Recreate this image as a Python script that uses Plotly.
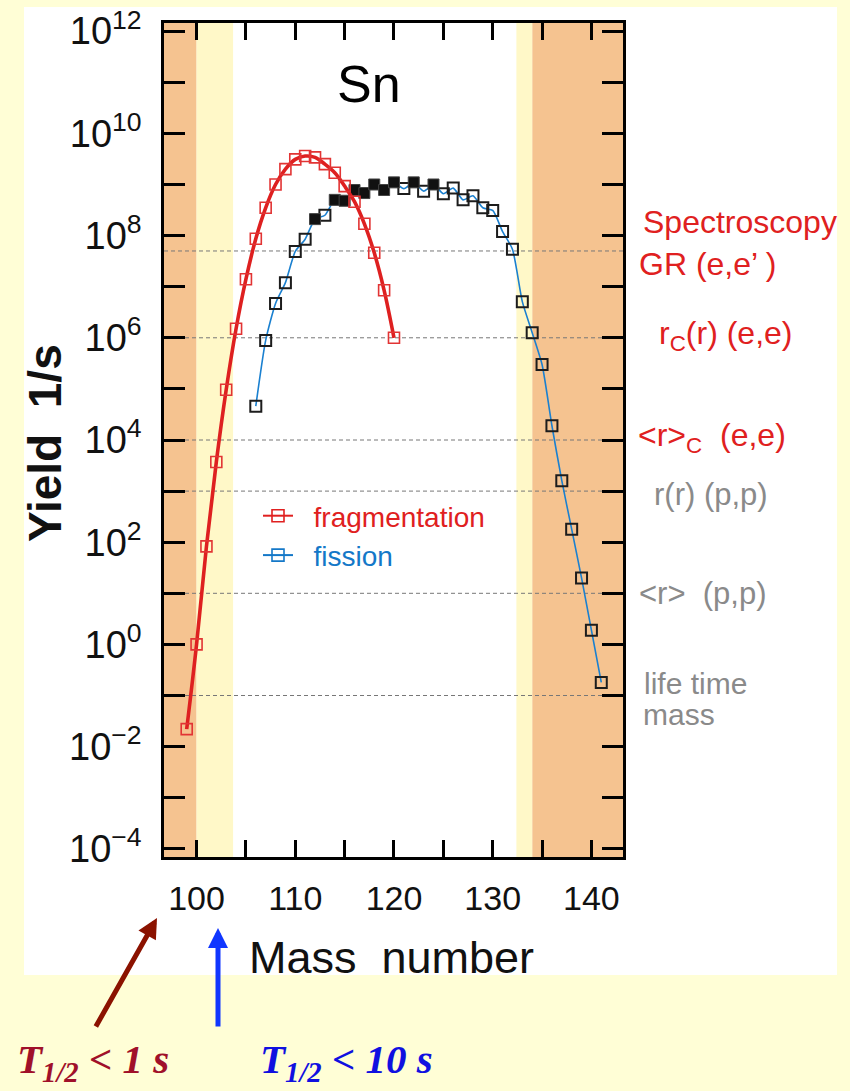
import plotly.graph_objects as go

# ---------------- data ----------------
frag_A = list(range(99, 121))
frag_yield = [2.2e-2, 1.0, 83, 3.7e3, 9.6e4, 1.5e6, 1.4e7, 8.7e7, 3.5e8, 1.0e9, 2.0e9,
              3.1e9, 3.6e9, 3.4e9, 2.5e9, 1.7e9, 9.3e8, 4.6e8, 1.7e8, 4.6e7, 8.5e6, 1.0e6]

fission_A = list(range(106, 142))
fission_yield = [4.6e4, 8.9e5, 4.7e6, 1.2e7, 4.9e7, 8.5e7, 2.1e8, 2.5e8, 5.0e8, 4.8e8,
                 7.8e8, 6.8e8, 1.0e9, 7.8e8, 1.1e9, 8.3e8, 1.1e9, 7.4e8, 1.0e9, 6.6e8,
                 8.5e8, 5.0e8, 6.0e8, 3.5e8, 3.1e8, 1.2e8, 5.4e7, 5.1e6, 1.26e6, 3.0e5,
                 1.9e4, 1.6e3, 1.8e2, 20, 1.9, 0.18]
fission_filled = [False, False, False, False, False, False, True, False, True, True,
                  True, True, True, True, True, False, True, False, True, False,
                  False, False, False, False, False, False, False, False, False, False,
                  False, False, False, False, False, False]

ref_levels = [5e7, 1e6, 1e4, 1e3, 10, 0.1]

right_labels = ["Spectroscopy", "GR (e,e\u2019 )", "r<sub>C</sub>(r) (e,e)", "&lt;r&gt;<sub>C</sub>  (e,e)",
                "r(r) (p,p)", "&lt;r&gt;  (p,p)", "life time", "mass"]
right_label_colors = ["#E02020"] * 4 + ["#8A8A8A"] * 4

y_exponents = list(range(-4, 13))
x_ticks = list(range(100, 145, 5))

band_orange = [(96.7, 100.0), (134.0, 143.2)]
band_yellow = [(100.0, 103.7), (132.4, 134.0)]

# ---------------- layout helpers ----------------
W, H = 850, 1091
L, R, T, B = 164, 227, 23, 234
PW, PH = W - L - R, H - T - B


def px(xp):
    return (xp - L) / PW


def py(yp):
    return (H - B - yp) / PH


TICKFONT = "Liberation Sans, Arial, sans-serif"
SANS = "Liberation Sans, Arial, sans-serif"

fig = go.Figure()

# fission
fig.add_trace(go.Scatter(x=fission_A, y=fission_yield, mode="lines",
                         line=dict(color="#1a80d0", width=1.6, shape="spline", smoothing=0.6),
                         showlegend=False, hoverinfo="skip"))
fig.add_trace(go.Scatter(x=[a for a, f in zip(fission_A, fission_filled) if not f],
                         y=[v for v, f in zip(fission_yield, fission_filled) if not f],
                         mode="markers",
                         marker=dict(symbol="square-open", size=11, color="#1c1c1c", line=dict(width=2)),
                         showlegend=False))
fig.add_trace(go.Scatter(x=[a for a, f in zip(fission_A, fission_filled) if f],
                         y=[v for v, f in zip(fission_yield, fission_filled) if f],
                         mode="markers",
                         marker=dict(symbol="square", size=11, color="#111111",
                                     line=dict(width=1, color="#444444")),
                         showlegend=False))
# fragmentation
fig.add_trace(go.Scatter(x=frag_A, y=frag_yield, mode="lines",
                         line=dict(color="#DE2020", width=3.6, shape="spline", smoothing=1.0),
                         showlegend=False, hoverinfo="skip"))
fig.add_trace(go.Scatter(x=frag_A, y=frag_yield, mode="markers",
                         marker=dict(symbol="square-open", size=11, color="#E23434", line=dict(width=1.6)),
                         showlegend=False))

# legend-only traces
fig.add_trace(go.Scatter(x=[None], y=[None], mode="lines+markers",
                         name='<span style="color:#E02020">\u00a0\u00a0fragmentation</span>',
                         line=dict(color="#E02020", width=2),
                         marker=dict(symbol="square-open", size=12, color="#E02020", line=dict(width=1.6))))
fig.add_trace(go.Scatter(x=[None], y=[None], mode="lines+markers",
                         name='<span style="color:#1478C8">\u00a0\u00a0fission</span>',
                         line=dict(color="#1478C8", width=2),
                         marker=dict(symbol="square-open", size=12, color="#1478C8", line=dict(width=1.6))))

shapes = []
# white panel
shapes.append(dict(type="rect", xref="paper", yref="paper", x0=px(24), x1=px(837), y0=py(975), y1=py(7),
                   fillcolor="white", line=dict(width=0), layer="below"))
for x0, x1 in band_orange:
    shapes.append(dict(type="rect", xref="x", yref="paper", x0=x0, x1=x1, y0=0, y1=1,
                       fillcolor="#F5C390", line=dict(width=0), layer="below"))
for x0, x1 in band_yellow:
    shapes.append(dict(type="rect", xref="x", yref="paper", x0=x0, x1=x1, y0=0, y1=1,
                       fillcolor="#FFF8C8", line=dict(width=0), layer="below"))
for lv in ref_levels:
    shapes.append(dict(type="line", xref="paper", yref="y", x0=0, x1=1, y0=lv, y1=lv,
                       line=dict(color="#777777", width=1, dash="4px,3px"), layer="below"))

annotations = []
annotations.append(dict(text="Sn", x=px(369), y=py(84), xref="paper", yref="paper", showarrow=False,
                        font=dict(family=SANS, size=52, color="black"), xanchor="center", yanchor="middle"))
label_pos = [(641, 222), (637, 264), (657, 335), (636, 437), (652, 494), (637, 593), (642, 683), (641, 714)]
for txt, col, (lx, ly), sz in zip(right_labels, right_label_colors, label_pos, [32, 32, 32, 32, 31, 31, 30, 30]):
    annotations.append(dict(text=txt, x=px(lx), y=py(ly), xref="paper", yref="paper", showarrow=False,
                            xanchor="left", yanchor="middle", font=dict(family=SANS, size=sz, color=col)))
# axis titles
annotations.append(dict(text="<b>Yield  1/s</b>", x=px(45), y=py(443), xref="paper", yref="paper",
                        showarrow=False, textangle=-90, xanchor="center", yanchor="middle",
                        font=dict(family=SANS, size=46, color="#111111")))
annotations.append(dict(text="Mass  number", x=px(391), y=py(958), xref="paper", yref="paper",
                        showarrow=False, xanchor="center", yanchor="middle",
                        font=dict(family=SANS, size=45, color="#111111")))
# arrows
annotations.append(dict(text="", x=px(157), y=py(918), xref="paper", yref="paper", showarrow=True,
                        ax=95 - 157, ay=1028 - 918, axref="pixel", ayref="pixel",
                        arrowhead=2, arrowsize=0.8, arrowwidth=5, arrowcolor="#8B1200", standoff=0))
annotations.append(dict(text="", x=px(218), y=py(928), xref="paper", yref="paper", showarrow=True,
                        ax=0, ay=100, axref="pixel", ayref="pixel",
                        arrowhead=2, arrowsize=0.8, arrowwidth=5, arrowcolor="#1036FF", standoff=0))
annotations.append(dict(text="<b><i>T<sub>1/2</sub> &lt; 1 s</i></b>", x=px(15), y=py(1062),
                        xref="paper", yref="paper", showarrow=False, xanchor="left", yanchor="middle",
                        font=dict(family="Liberation Serif, Times New Roman, serif", size=41, color="#A0102A")))
annotations.append(dict(text="<b><i>T<sub>1/2</sub> &lt; 10 s</i></b>", x=px(258), y=py(1062),
                        xref="paper", yref="paper", showarrow=False, xanchor="left", yanchor="middle",
                        font=dict(family="Liberation Serif, Times New Roman, serif", size=41, color="#1010E0")))

fig.update_layout(
    width=W, height=H,
    margin=dict(l=L, r=R, t=T, b=B, autoexpand=False),
    paper_bgcolor="#FFFED6", plot_bgcolor="rgba(0,0,0,0)",
    shapes=shapes, annotations=annotations,
    showlegend=True,
    legend=dict(x=px(258), y=py(491), xanchor="left", yanchor="top", bgcolor="rgba(0,0,0,0)",
                font=dict(family=SANS, size=28), tracegroupgap=0, itemwidth=30),
    xaxis=dict(range=[96.7, 143.2], tickmode="array", tickvals=x_ticks,
               ticktext=[str(v) if v % 10 == 0 else "" for v in x_ticks],
               ticks="inside", ticklen=17, tickwidth=2.5, tickcolor="black",
               showline=True, linewidth=2.5, linecolor="black", mirror="ticks",
               showgrid=False, zeroline=False, ticklabelstandoff=9,
               tickfont=dict(family=TICKFONT, size=34, color="#111111")),
    yaxis=dict(type="log", range=[-4.16, 12.16], tickmode="array",
               tickvals=[10.0 ** e for e in y_exponents],
               ticktext=[("10<sup>%s</sup>" % str(e).replace("-", "\u2212")) if e % 2 == 0 else ""
                         for e in y_exponents],
               ticks="inside", ticklen=21, tickwidth=2.5, tickcolor="black",
               showline=True, linewidth=2.5, linecolor="black", mirror="ticks",
               showgrid=False, zeroline=False, ticklabelstandoff=12,
               tickfont=dict(family=TICKFONT, size=38, color="#111111")),
)

fig.write_html("out.html")
